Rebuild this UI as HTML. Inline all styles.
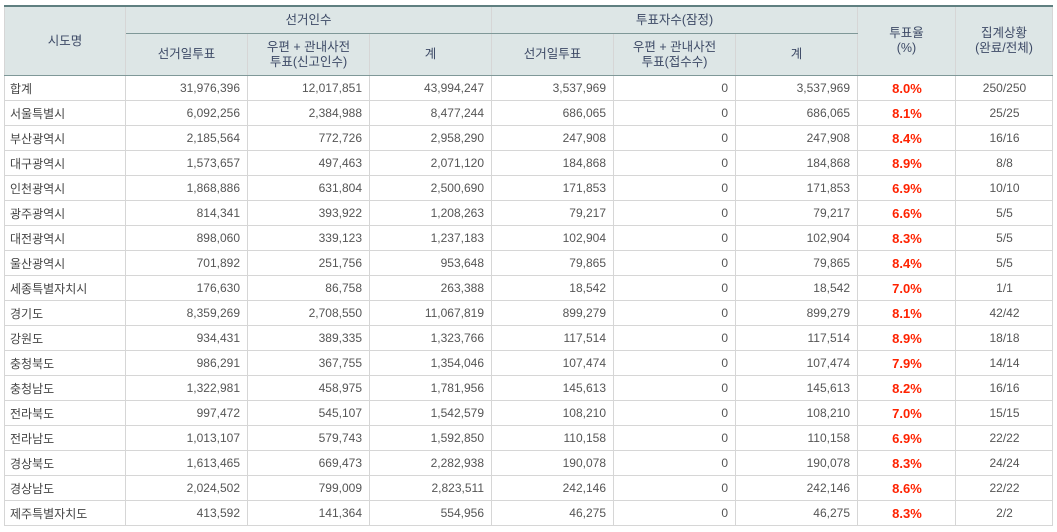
<!DOCTYPE html>
<html><head><meta charset="utf-8"><style>
body{margin:0;background:#fff;width:1057px;height:532px;overflow:hidden}
table{position:absolute;left:4px;top:5px;border-collapse:collapse;table-layout:fixed;font-family:"Liberation Sans","Noto Sans CJK KR","NanumGothic",sans-serif;font-size:12px;color:#555;border-top:2px solid #5f7f80}
td,th{border:1px solid #d6d6d6;padding:0 8px;height:24px;white-space:nowrap;overflow:hidden}
th{background:#dde6e6;color:#3d4a66;font-weight:normal;line-height:15px;font-size:12.5px}
th.top{height:26px;border-bottom:1px solid #7f9898}
tr.h2 th{height:41px}
tr.h2 th, th.rs{border-bottom:1px solid #7f9898}
td{text-align:right;padding-right:7px}
td.l{text-align:left;padding-left:5px;color:#444}
td.c{text-align:center}
td.r{text-align:center;color:#ff2200;font-weight:bold;font-size:13px}
</style></head><body>
<table>
<colgroup><col style="width:121px"><col style="width:122px"><col style="width:122px"><col style="width:122px"><col style="width:122px"><col style="width:122px"><col style="width:122px"><col style="width:98px"><col style="width:97px"></colgroup>
<tr><th rowspan="2" class="rs">시도명</th><th colspan="3" class="top">선거인수</th><th colspan="3" class="top">투표자수(잠정)</th><th rowspan="2" class="rs">투표율<br>(%)</th><th rowspan="2" class="rs">집계상황<br>(완료/전체)</th></tr>
<tr class="h2"><th>선거일투표</th><th>우편 + 관내사전<br>투표(신고인수)</th><th>계</th><th>선거일투표</th><th>우편 + 관내사전<br>투표(접수수)</th><th>계</th></tr>
<tr><td class="l">합계</td><td>31,976,396</td><td>12,017,851</td><td>43,994,247</td><td>3,537,969</td><td>0</td><td>3,537,969</td><td class="r">8.0%</td><td class="c">250/250</td></tr>
<tr><td class="l">서울특별시</td><td>6,092,256</td><td>2,384,988</td><td>8,477,244</td><td>686,065</td><td>0</td><td>686,065</td><td class="r">8.1%</td><td class="c">25/25</td></tr>
<tr><td class="l">부산광역시</td><td>2,185,564</td><td>772,726</td><td>2,958,290</td><td>247,908</td><td>0</td><td>247,908</td><td class="r">8.4%</td><td class="c">16/16</td></tr>
<tr><td class="l">대구광역시</td><td>1,573,657</td><td>497,463</td><td>2,071,120</td><td>184,868</td><td>0</td><td>184,868</td><td class="r">8.9%</td><td class="c">8/8</td></tr>
<tr><td class="l">인천광역시</td><td>1,868,886</td><td>631,804</td><td>2,500,690</td><td>171,853</td><td>0</td><td>171,853</td><td class="r">6.9%</td><td class="c">10/10</td></tr>
<tr><td class="l">광주광역시</td><td>814,341</td><td>393,922</td><td>1,208,263</td><td>79,217</td><td>0</td><td>79,217</td><td class="r">6.6%</td><td class="c">5/5</td></tr>
<tr><td class="l">대전광역시</td><td>898,060</td><td>339,123</td><td>1,237,183</td><td>102,904</td><td>0</td><td>102,904</td><td class="r">8.3%</td><td class="c">5/5</td></tr>
<tr><td class="l">울산광역시</td><td>701,892</td><td>251,756</td><td>953,648</td><td>79,865</td><td>0</td><td>79,865</td><td class="r">8.4%</td><td class="c">5/5</td></tr>
<tr><td class="l">세종특별자치시</td><td>176,630</td><td>86,758</td><td>263,388</td><td>18,542</td><td>0</td><td>18,542</td><td class="r">7.0%</td><td class="c">1/1</td></tr>
<tr><td class="l">경기도</td><td>8,359,269</td><td>2,708,550</td><td>11,067,819</td><td>899,279</td><td>0</td><td>899,279</td><td class="r">8.1%</td><td class="c">42/42</td></tr>
<tr><td class="l">강원도</td><td>934,431</td><td>389,335</td><td>1,323,766</td><td>117,514</td><td>0</td><td>117,514</td><td class="r">8.9%</td><td class="c">18/18</td></tr>
<tr><td class="l">충청북도</td><td>986,291</td><td>367,755</td><td>1,354,046</td><td>107,474</td><td>0</td><td>107,474</td><td class="r">7.9%</td><td class="c">14/14</td></tr>
<tr><td class="l">충청남도</td><td>1,322,981</td><td>458,975</td><td>1,781,956</td><td>145,613</td><td>0</td><td>145,613</td><td class="r">8.2%</td><td class="c">16/16</td></tr>
<tr><td class="l">전라북도</td><td>997,472</td><td>545,107</td><td>1,542,579</td><td>108,210</td><td>0</td><td>108,210</td><td class="r">7.0%</td><td class="c">15/15</td></tr>
<tr><td class="l">전라남도</td><td>1,013,107</td><td>579,743</td><td>1,592,850</td><td>110,158</td><td>0</td><td>110,158</td><td class="r">6.9%</td><td class="c">22/22</td></tr>
<tr><td class="l">경상북도</td><td>1,613,465</td><td>669,473</td><td>2,282,938</td><td>190,078</td><td>0</td><td>190,078</td><td class="r">8.3%</td><td class="c">24/24</td></tr>
<tr><td class="l">경상남도</td><td>2,024,502</td><td>799,009</td><td>2,823,511</td><td>242,146</td><td>0</td><td>242,146</td><td class="r">8.6%</td><td class="c">22/22</td></tr>
<tr><td class="l">제주특별자치도</td><td>413,592</td><td>141,364</td><td>554,956</td><td>46,275</td><td>0</td><td>46,275</td><td class="r">8.3%</td><td class="c">2/2</td></tr>
</table>
</body></html>
